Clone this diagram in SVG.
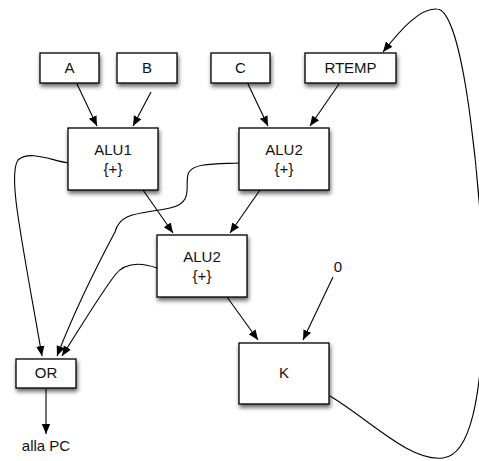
<svg xmlns="http://www.w3.org/2000/svg" width="479" height="461" viewBox="0 0 479 461">
<defs>
<filter id="sh" x="-20%" y="-20%" width="150%" height="160%">
<feDropShadow dx="1" dy="3" stdDeviation="2.2" flood-color="#000" flood-opacity="0.6"/>
</filter>
<marker id="ah" viewBox="0 0 10 10" refX="10" refY="5" markerWidth="10" markerHeight="10" markerUnits="userSpaceOnUse" orient="auto">
<path d="M0,0.8 L10,5 L0,9.2 Z" fill="#000"/>
</marker>
<style>
.box{fill:#fff;stroke:#000;stroke-width:1.3;filter:url(#sh)}
.t{font-family:"Liberation Sans",Arial,sans-serif;font-size:15px;fill:#111;text-anchor:middle}
.c{fill:none;stroke:#000;stroke-width:1.1;marker-end:url(#ah)}
</style>
</defs>
<rect width="479" height="461" fill="#fff"/>
<g id="connectors">
<path class="c" d="M77,84 L97,126"/>
<path class="c" d="M151,92 L133,126"/>
<path class="c" d="M248,84 L268,126"/>
<path class="c" d="M339,84 L310,126"/>
<path class="c" d="M143,190 L173,233"/>
<path class="c" d="M260,190 L230,233"/>
<path class="c" d="M227,297 L258,340"/>
<path class="c" d="M333,277 L303,340"/>
<path class="c" d="M68,163 C50,160 30,150 18,160 C8,175 20,230 42,356"/>
<path class="c" d="M239,163 C215,164 195,163 189,172 C183,182 196,203 170,208 C140,214 120,212 115,232 C100,260 75,310 57,356"/>
<path class="c" d="M157,268 C140,262 125,262 115,275 C100,295 85,320 62,356"/>
<path class="c" d="M46,389 L46,434"/>
<path class="c" d="M330,396 C370,420 410,462 443,458 C470,455 482,400 484,300 C482,200 465,10 437,9 C420,8 402,28 383,52"/>
</g>
<g id="A"><rect class="box" x="40" y="53" width="59" height="30"/><text class="t" x="69.5" y="73">A</text></g>
<g id="B"><rect class="box" x="117" y="53" width="60" height="30"/><text class="t" x="147" y="73">B</text></g>
<g id="C"><rect class="box" x="211" y="53" width="59" height="30"/><text class="t" x="240.5" y="73">C</text></g>
<g id="RTEMP"><rect class="box" x="305" y="53" width="91" height="30"/><text class="t" x="350.5" y="73">RTEMP</text></g>
<g id="ALU1"><rect class="box" x="68" y="128" width="90" height="62"/><text class="t" x="113" y="155">ALU1</text><text class="t" x="113" y="174">{+}</text></g>
<g id="ALU2a"><rect class="box" x="239" y="128" width="90" height="62"/><text class="t" x="284" y="155">ALU2</text><text class="t" x="284" y="174">{+}</text></g>
<g id="ALU2b"><rect class="box" x="157" y="235" width="90" height="62"/><text class="t" x="202" y="262">ALU2</text><text class="t" x="202" y="281">{+}</text></g>
<g id="zero"><text class="t" x="338" y="272">0</text></g>
<g id="OR"><rect class="box" x="16" y="359" width="60" height="29"/><text class="t" x="46" y="378">OR</text></g>
<g id="K"><rect class="box" x="239" y="343" width="90" height="61"/><text class="t" x="284" y="378">K</text></g>
<g id="allaPC"><text class="t" x="46" y="451">alla PC</text></g>
</svg>
